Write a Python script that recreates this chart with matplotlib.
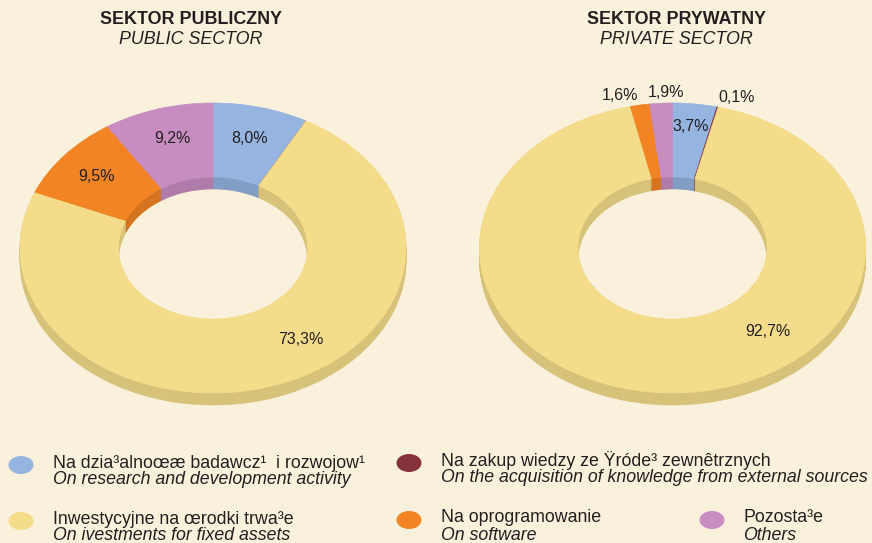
import matplotlib.pyplot as plt
import matplotlib.colors as mcolors
from matplotlib.patches import Ellipse

# categories (order clockwise from 12 o'clock)
categories_pl = ["Na dzia³alnoœæ badawcz¹  i rozwojow¹",
                 "Na zakup wiedzy ze Ÿróde³ zewnêtrznych",
                 "Inwestycyjne na œrodki trwa³e",
                 "Na oprogramowanie",
                 "Pozosta³e"]
categories_en = ["On research and development activity",
                 "On the acquisition of knowledge from external sources",
                 "On ivestments for fixed assets",
                 "On software",
                 "Others"]
colors = ["#95B4DF", "#86323A", "#F4DC8A", "#F28423", "#C78DC0"]

public_values = [8.0, 0.0, 73.3, 9.5, 9.2]
private_values = [3.7, 0.1, 92.7, 1.6, 1.9]
public_labels = ["8,0%", "", "73,3%", "9,5%", "9,2%"]
private_labels = ["3,7%", "0,1%", "92,7%", "1,6%", "1,9%"]

# label anchor points in ring units (x: half-width, y: half-height)
public_label_pos = [(0.187, 0.752), None, (0.456, -0.628), (-0.606, 0.49), (-0.212, 0.752)]
private_label_pos = [(0.096, 0.84), (0.334, 1.04), (0.492, -0.579), (-0.272, 1.055), (-0.034, 1.069)]

BG = "#FAF1DC"
TXT = "#231F20"
FONT = "Liberation Sans"
W, H = 872, 543
RX, RY = 193, 145      # ellipse half axes in px
DEPTH = 12             # px
N_LAYERS = 12


def darker(c, f=0.88):
    r, g, b = mcolors.to_rgb(c)
    return (r * f, g * f, b * f)


def draw_donut(ax, values, labels, label_pos):
    # side walls: stacked darker copies shifted down
    for k in range(N_LAYERS, 0, -1):
        off = -k * DEPTH / N_LAYERS / RY
        wedges, _ = ax.pie(values, colors=[darker(c) for c in colors], startangle=90,
                           counterclock=False, radius=1, center=(0, off),
                           wedgeprops=dict(width=0.51, linewidth=0.5))
        for w in wedges:
            w.set_edgecolor(w.get_facecolor())
    wedges, _ = ax.pie(values, colors=colors, startangle=90, counterclock=False,
                       radius=1, center=(0, 0), wedgeprops=dict(width=0.51, linewidth=0.5))
    for w in wedges:
        w.set_edgecolor(w.get_facecolor())
    for lab, pos in zip(labels, label_pos):
        if lab and pos:
            ax.text(pos[0], pos[1], lab, ha="center", va="center", fontsize=11.5,
                    family=FONT, color=TXT)


def make_axes(fig, x0, x1, ytop, ybot, cx, cy):
    ax = fig.add_axes([x0 / W, 1 - ybot / H, (x1 - x0) / W, (ybot - ytop) / H])
    ax.set_facecolor("none")
    return ax, ((x0 - cx) / RX, (x1 - cx) / RX), ((cy - ybot) / RY, (cy - ytop) / RY)


fig = plt.figure(figsize=(W / 100, H / 100), dpi=100)
fig.patch.set_facecolor(BG)

for (x0, x1, cx), vals, labs, lpos in [((0, 426, 213), public_values, public_labels, public_label_pos),
                                       ((446, 872, 672.5), private_values, private_labels, private_label_pos)]:
    ax, xl, yl = make_axes(fig, x0, x1, 80, 425, cx, 248)
    draw_donut(ax, vals, labs, lpos)
    ax.set_aspect("auto")
    ax.set_xlim(*xl)
    ax.set_ylim(*yl)
    ax.axis("off")

# titles
for x, t1, t2 in [(191, "SEKTOR PUBLICZNY", "PUBLIC SECTOR"),
                  (676, "SEKTOR PRYWATNY", "PRIVATE SECTOR")]:
    fig.text(x / W, 1 - 20 / H, t1, ha="center", va="center", fontsize=12.9,
             fontweight="bold", family=FONT, color=TXT)
    fig.text(x / W, 1 - 40 / H, t2, ha="center", va="center", fontsize=12.9,
             style="italic", family=FONT, color=TXT)

# legend
lax = fig.add_axes([0, 0, 1, 1])
lax.set_xlim(0, W)
lax.set_ylim(H, 0)
lax.axis("off")
legend_slots = [(21, 465, 53), (409, 463, 441), (21, 521, 53), (409, 520, 441), (712, 520, 743)]
for (mx, my, tx), c, pl, en in zip(legend_slots, colors, categories_pl, categories_en):
    lax.add_patch(Ellipse((mx, my), 25, 18, facecolor=c, edgecolor="none"))
    lax.text(tx, my - 2, pl, ha="left", va="center", fontsize=12.8, family=FONT, color=TXT)
    lax.text(tx, my + 15, en, ha="left", va="center", fontsize=12.8, family=FONT,
             style="italic", color=TXT)

fig.savefig("out.png", dpi=100, facecolor=BG)
